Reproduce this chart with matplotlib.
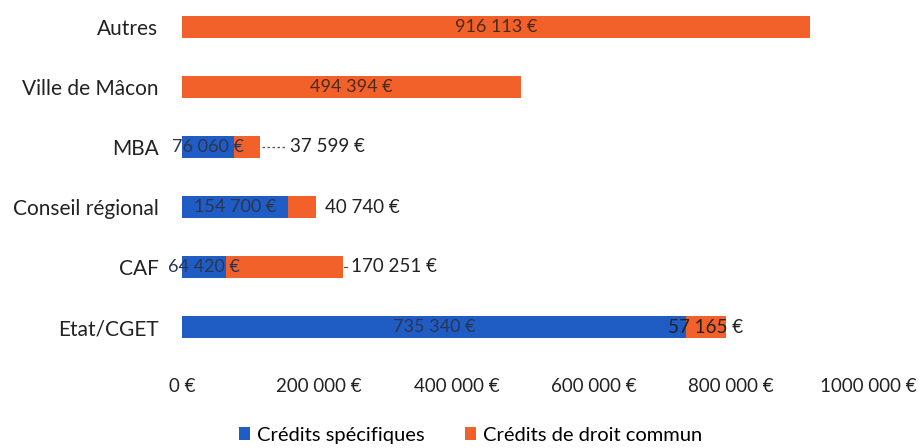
import numpy as np
import matplotlib.pyplot as plt

plt.rcParams['font.family'] = ['Lato', 'DejaVu Sans']

categories = ["Etat/CGET", "CAF", "Conseil régional", "MBA", "Ville de Mâcon", "Autres"]
specifiques = [735340, 64420, 154700, 76060, 0, 0]
droit_commun = [57165, 170251, 40740, 37599, 494394, 916113]
xticks = [0, 200000, 400000, 600000, 800000, 1000000]
xtick_labels = ["0 €", "200 000 €", "400 000 €", "600 000 €", "800 000 €", "1000 000 €"]

blue = "#1f5cc4"
orange = "#f2612a"
txt = "#222222"


def fmt(v):
    return "{:,}".format(v).replace(",", " ") + " €"


fig = plt.figure(figsize=(9.19, 4.48), dpi=100)
ax = fig.add_axes([182 / 919, 91 / 448, 686 / 919, 357 / 448])

y = np.arange(len(categories))
h = 0.38
ax.barh(y, specifiques, height=h, color=blue, label="Crédits spécifiques")
ax.barh(y, droit_commun, left=specifiques, height=h, color=orange,
        label="Crédits de droit commun")

for i in range(len(categories)):
    s = specifiques[i]
    d = droit_commun[i]
    if s > 0:
        ax.text(s / 2, i, fmt(s), ha="center", va="center", fontsize=13,
                color="#2b3550")
    if categories[i] in ("Autres", "Ville de Mâcon"):
        ax.text(s + d / 2, i, fmt(d), ha="center", va="center", fontsize=13,
                color="#4a2a18")
    elif categories[i] == "Etat/CGET":
        ax.text(s + d / 2, i, fmt(d), ha="center", va="center",
                fontsize=13.5, color=txt)

# labels outside the short bars, with leader lines
tot = [s + d for s, d in zip(specifiques, droit_commun)]
ax.plot([tot[3] + 3000, tot[3] + 37000], [3, 3], ls=(0, (2, 2)), lw=0.9,
        color="#555555")
ax.text(tot[3] + 44000, 3, fmt(droit_commun[3]), ha="left", va="center",
        fontsize=13.5, color=txt)
ax.text(tot[2] + 13000, 2, fmt(droit_commun[2]), ha="left", va="center",
        fontsize=13.5, color=txt)
ax.plot([tot[1] + 1500, tot[1] + 6500], [1, 1], lw=0.9, color="#555555")
ax.text(tot[1] + 11000, 1, fmt(droit_commun[1]), ha="left", va="center",
        fontsize=13.5, color=txt)

ax.set_xlim(0, 1000000)
ax.set_ylim(-0.5, 5.45)
ax.set_yticks(y)
ax.set_yticklabels(categories, fontsize=15, color=txt)
ax.set_xticks(xticks)
ax.set_xticklabels(xtick_labels, fontsize=13.5, color=txt)
ax.tick_params(axis="both", length=0)
ax.tick_params(axis="x", pad=15)
ax.tick_params(axis="y", pad=17)
for sp in ax.spines.values():
    sp.set_visible(False)

fig.legend(loc="center", bbox_to_anchor=(471 / 919, 13 / 448), ncol=2,
           frameon=False, fontsize=14.5, handlelength=0.55, handleheight=0.65,
           handletextpad=0.35, columnspacing=2.0)

fig.savefig("out.png", dpi=100)
